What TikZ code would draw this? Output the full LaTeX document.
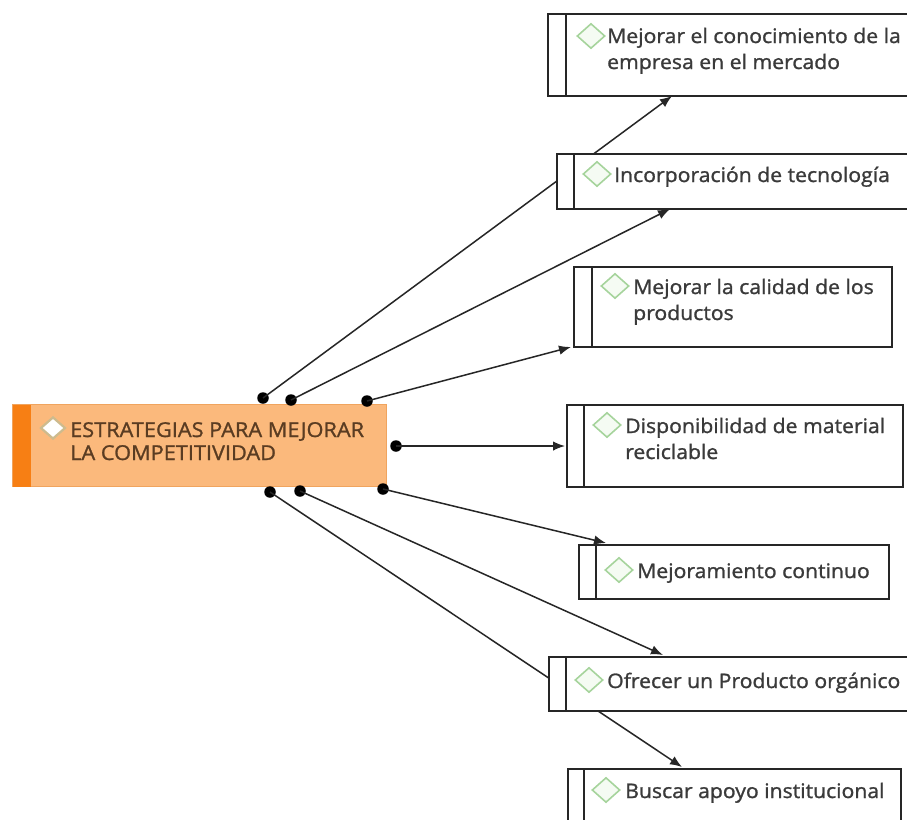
\documentclass[tikz,border=0pt]{standalone}
\usepackage{fontspec}
\setmainfont{Open Sans}[FakeStretch=1.06, FakeBold=1.2]
\usetikzlibrary{arrows.meta,shapes.geometric}

\definecolor{edgegray}{HTML}{262626}
\definecolor{leaftext}{HTML}{3A3A3A}
\definecolor{hubfill}{HTML}{FBB97C}
\definecolor{hubedge}{HTML}{F0A45E}
\definecolor{hubbar}{HTML}{F77F14}
\definecolor{hubtext}{HTML}{5A3C22}
\definecolor{gemgreen}{HTML}{A6D49C}
\definecolor{gemfill}{HTML}{F5FBF3}
\definecolor{gemtan}{HTML}{CDBB8E}

\tikzset{
  leaf/.style={draw=edgegray, line width=1.5pt, fill=white, anchor=north west,
    inner sep=0pt},
  gem/.style={diamond, draw=gemgreen, fill=gemfill, line width=1.6pt,
    minimum width=28pt, minimum height=25pt, inner sep=0pt},
  hubgem/.style={gem, draw=gemtan, fill=white, line width=2.2pt,
    minimum width=25pt, minimum height=22pt},
  label/.style={anchor=base west, inner sep=0pt, text=leaftext,
    font=\fontsize{20}{26}\selectfont},
  hublabel/.style={label, text=hubtext, font=\fontsize{20.5}{23}\selectfont},
  pin/.style={circle, fill=black, minimum size=11.5pt, inner sep=0pt},
  link/.style={draw=edgegray, line width=1.5pt,
    -{Latex[length=12pt,width=9.5pt]}},
}

\newcommand{\twolines}[2]{\begin{tabular}[t]{@{}l@{}}#1\\#2\end{tabular}}

\begin{document}
\begin{tikzpicture}[x=1pt,y=-1pt]
  \clip (0,0) rectangle (907,819);
  \fill[white] (0,0) rectangle (907,819);

  % central topic
  \node[draw=hubedge, fill=hubfill, line width=1.2pt, anchor=north west,
        minimum width=374pt, minimum height=82pt, inner sep=0pt] (hub) at (12,404) {};
  \fill[hubbar] ([shift={(0.6pt,-0.6pt)}]hub.north west) rectangle ([xshift=19pt]hub.south west);
  \node[hubgem] (hubg) at (53,428) {};
  \node[hublabel] (hubt) at (70,437)
    {\twolines{ESTRATEGIAS PARA MEJORAR}{LA COMPETITIVIDAD}};

  % connection points on the central topic
  \node[pin] (p1) at (263,398) {};
  \node[pin] (p2) at (291,400) {};
  \node[pin] (p3) at (367,401) {};
  \node[pin] (p4) at (396,446) {};
  \node[pin] (p5) at (383,489) {};
  \node[pin] (p6) at (300,491) {};
  \node[pin] (p7) at (270,492) {};

  % arrow tips at the subtopics
  \coordinate (e1) at (672,96);
  \coordinate (e2) at (670,209);
  \coordinate (e3) at (571,347);
  \coordinate (e4) at (565,446);
  \coordinate (e5) at (606,543);
  \coordinate (e6) at (663,655);
  \coordinate (e7) at (682,767);

  \draw[link] (p1.center) -- (e1);
  \draw[link] (p2.center) -- (e2);
  \draw[link] (p3.center) -- (e3);
  \draw[link] (p4.center) -- (e4);
  \draw[link] (p5.center) -- (e5);
  \draw[link] (p6.center) -- (e6);
  \draw[link] (p7.center) -- (e7);

  % subtopics
  \node[leaf, minimum width=370pt, minimum height=82pt] (b1) at (547,13) {};
  \node[leaf, minimum width=360pt, minimum height=55pt] (b2) at (556,153) {};
  \node[leaf, minimum width=318pt, minimum height=80pt] (b3) at (573,266) {};
  \node[leaf, minimum width=336pt, minimum height=82pt] (b4) at (566,404) {};
  \node[leaf, minimum width=310pt, minimum height=54pt] (b5) at (578,544) {};
  \node[leaf, minimum width=370pt, minimum height=54pt] (b6) at (548,656) {};
  \node[leaf, minimum width=333pt, minimum height=70pt] (b7) at (567,768) {};

  \foreach \b/\w in {b1/19,b2/18,b3/19,b4/18,b5/18,b6/18,b7/17}
    \draw[edgegray, line width=1.5pt] ([xshift=\w pt]\b.north west) -- ([xshift=\w pt]\b.south west);

  \node[gem] (g1) at (591,36) {};
  \node[gem] (g2) at (597,174) {};
  \node[gem] (g3) at (615,286) {};
  \node[gem] (g4) at (607,425) {};
  \node[gem] (g5) at (619,570) {};
  \node[gem] (g6) at (589,680) {};
  \node[gem] (g7) at (606,790) {};

  \node[label] (t1) at (607,43) {\twolines{Mejorar el conocimiento de la}{empresa en el mercado}};
  \node[label] (t2) at (614,182) {Incorporación de tecnología};
  \node[label] (t3) at (633,294) {\twolines{Mejorar la calidad de los}{productos}};
  \node[label] (t4) at (625,433) {\twolines{Disponibilidad de material}{reciclable}};
  \node[label] (t5) at (637,578) {Mejoramiento continuo};
  \node[label] (t6) at (607,688) {Ofrecer un Producto orgánico};
  \node[label] (t7) at (625,798) {Buscar apoyo institucional};
\end{tikzpicture}
\end{document}
